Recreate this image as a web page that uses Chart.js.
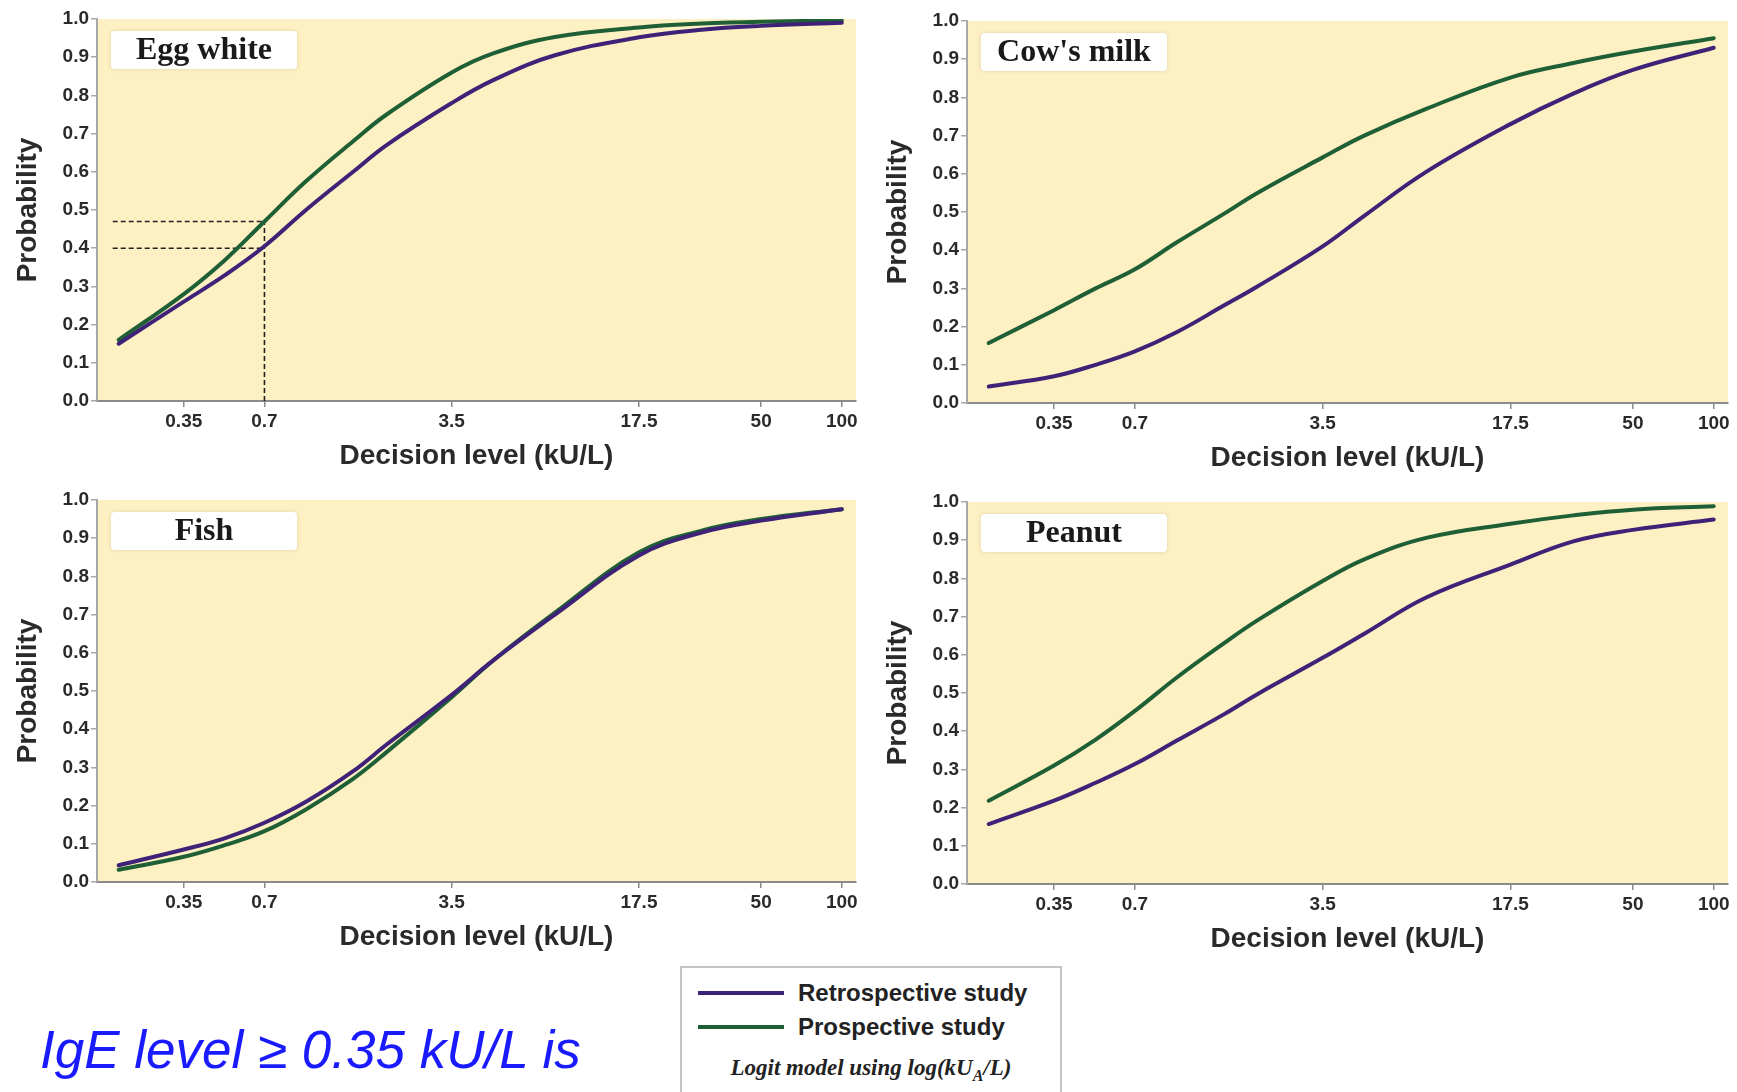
<!DOCTYPE html>
<html>
<head>
<meta charset="utf-8">
<script src="https://cdn.jsdelivr.net/npm/chart.js@4.4.0/dist/chart.umd.min.js"></script>
<style>
  body { margin: 0; background: #fff; width: 1737px; height: 1092px; overflow: hidden; position: relative; font-family: 'Liberation Sans', Arial, sans-serif; }
  canvas { position: absolute; }
  #legend { position: absolute; left: 680px; top: 966px; width: 378px; height: 140px; border: 2px solid #c4c4c4; border-bottom: none; background: #fff; }
  .item { position: absolute; left: 16px; font-weight: bold; font-size: 24px; color: #222; line-height: 26px; }
  .sw { display: inline-block; width: 86px; height: 4px; vertical-align: middle; margin-right: 14px; position: relative; top: -2px; }
  #logit { position: absolute; left: 0; width: 378px; top: 87px; text-align: center; font-family: 'Liberation Serif', 'Times New Roman', serif; font-style: italic; font-weight: bold; font-size: 23px; color: #222; }
  #note { position: absolute; left: 40px; top: 1022px; font-style: italic; font-size: 53px; line-height: 56px; color: #1a1aff; }
</style>
</head>
<body>
<canvas id="c0"></canvas>
<canvas id="c1"></canvas>
<canvas id="c2"></canvas>
<canvas id="c3"></canvas>

<div id="legend">
  <div class="item" style="top:12px"><span class="sw" style="background:#3d2277"></span>Retrospective study</div>
  <div class="item" style="top:46px"><span class="sw" style="background:#1f5f35"></span>Prospective study</div>
  <div id="logit">Logit model using log(kU<sub style="font-size:16px">A</sub>/L)</div>
</div>
<div id="note">IgE level &ge; 0.35 kU/L is</div>

<script>
// decision levels (kU/L) where curves were read
const levels = [0.2, 0.35, 0.5, 0.7, 1, 1.5, 2, 3.5, 5, 8.5, 17.5, 30, 50, 100];

const eggRetro  = [0.15, 0.26, 0.33, 0.405, 0.50, 0.60, 0.67, 0.78, 0.84, 0.905, 0.952, 0.972, 0.982, 0.99];
const eggPro    = [0.16, 0.28, 0.37, 0.47, 0.575, 0.68, 0.75, 0.86, 0.91, 0.953, 0.978, 0.988, 0.993, 0.996];

const milkRetro = [0.043, 0.07, 0.10, 0.135, 0.185, 0.255, 0.305, 0.41, 0.49, 0.605, 0.73, 0.81, 0.872, 0.93];
const milkPro   = [0.157, 0.243, 0.30, 0.35, 0.42, 0.495, 0.55, 0.643, 0.70, 0.77, 0.852, 0.89, 0.92, 0.955];

const fishRetro = [0.044, 0.085, 0.115, 0.155, 0.21, 0.29, 0.36, 0.49, 0.58, 0.70, 0.855, 0.915, 0.946, 0.976];
const fishPro   = [0.032, 0.066, 0.097, 0.133, 0.19, 0.27, 0.34, 0.484, 0.58, 0.705, 0.863, 0.92, 0.95, 0.976];

const peanutRetro = [0.157, 0.218, 0.265, 0.314, 0.375, 0.444, 0.497, 0.592, 0.655, 0.75, 0.836, 0.897, 0.927, 0.954];
const peanutPro   = [0.218, 0.31, 0.378, 0.453, 0.54, 0.63, 0.69, 0.793, 0.85, 0.906, 0.943, 0.965, 0.98, 0.989];

// egg white cut-off guides (dashed)
const cutLevel = 0.7;
const cutStart = 0.19;
const cutProb = [0.47, 0.40];

const xTickValues = [0.35, 0.7, 3.5, 17.5, 50, 100];
const xTickLabels = ['0.35', '0.7', '3.5', '17.5', '50', '100'];
const yTickValues = [0, 0.1, 0.2, 0.3, 0.4, 0.5, 0.6, 0.7, 0.8, 0.9, 1.0];

const retroColor = '#3d2277';
const proColor = '#1f5f35';

const toPts = arr => levels.map((x, i) => ({ x: x, y: arr[i] }));

const yellowBg = {
  id: 'yellowBg',
  beforeDraw(chart) {
    const a = chart.chartArea, c = chart.ctx;
    c.save();
    c.fillStyle = '#fdf0c3';
    c.fillRect(a.left, a.top, a.right - a.left, a.bottom - a.top);
    c.restore();
  }
};

const panelTag = {
  id: 'panelTag',
  afterDraw(chart, args, opts) {
    const a = chart.chartArea, c = chart.ctx;
    const x = a.left + 14, y = a.top + 12, w = 186, h = 38;
    c.save();
    c.shadowColor = 'rgba(0,0,0,0.12)';
    c.shadowBlur = 4;
    c.fillStyle = '#ffffff';
    c.beginPath();
    c.roundRect(x, y, w, h, 4);
    c.fill();
    c.shadowBlur = 0;
    c.fillStyle = '#1a1a1a';
    c.font = 'bold 32px "Liberation Serif", "Times New Roman", serif';
    c.textAlign = 'center';
    c.textBaseline = 'middle';
    c.fillText(opts.text, x + w / 2, y + h / 2 + 1);
    c.restore();
  }
};

const panels = [
  { id: 'c0', name: 'Egg white',  retro: eggRetro,    pro: eggPro,    left: 0,   top: -1,  plotW: 759, cut: true },
  { id: 'c1', name: "Cow's milk", retro: milkRetro,   pro: milkPro,   left: 870, top: 1,   plotW: 761 },
  { id: 'c2', name: 'Fish',       retro: fishRetro,   pro: fishPro,   left: 0,   top: 480, plotW: 759 },
  { id: 'c3', name: 'Peanut',     retro: peanutRetro, pro: peanutPro, left: 870, top: 482, plotW: 761 }
];

const axisW = 97, xAxisH = 76, padTop = 20, padRight = 10, plotH = 382;

panels.forEach(p => {
  const cv = document.getElementById(p.id);
  const w = axisW + p.plotW + padRight, h = padTop + plotH + xAxisH;
  cv.width = w; cv.height = h;
  cv.style.left = p.left + 'px'; cv.style.top = p.top + 'px';
  cv.style.width = w + 'px'; cv.style.height = h + 'px';

  const lineStyle = { showLine: true, pointRadius: 0, borderWidth: 4, tension: 0.4, fill: false, borderCapStyle: 'round' };
  const datasets = [
    Object.assign({ label: 'Retrospective study', data: toPts(p.retro), borderColor: retroColor }, lineStyle),
    Object.assign({ label: 'Prospective study', data: toPts(p.pro), borderColor: proColor }, lineStyle)
  ];
  if (p.cut) {
    const dash = { showLine: true, pointRadius: 0, borderWidth: 1.6, borderColor: '#222', borderDash: [5, 3], fill: false, tension: 0 };
    cutProb.forEach(v => datasets.push(Object.assign({ label: 'cut', data: [{ x: cutStart, y: v }, { x: cutLevel, y: v }] }, dash)));
    datasets.push(Object.assign({ label: 'cut', data: [{ x: cutLevel, y: 0 }, { x: cutLevel, y: cutProb[0] }] }, dash));
  }

  new Chart(cv, {
    type: 'scatter',
    data: { datasets: datasets },
    options: {
      responsive: false,
      animation: false,
      events: [],
      layout: { autoPadding: false, padding: { top: padTop, right: padRight, left: 0, bottom: 0 } },
      plugins: {
        legend: { display: false },
        tooltip: { enabled: false },
        panelTag: { text: p.name }
      },
      scales: {
        x: {
          type: 'logarithmic',
          min: 0.166,
          max: 113,
          afterFit: s => { s.height = xAxisH; },
          afterBuildTicks: s => { s.ticks = xTickValues.map(v => ({ value: v })); },
          grid: { drawOnChartArea: false, tickLength: 6, color: '#8a8a8a', lineWidth: 1.5 },
          border: { display: true, color: '#8a8a8a', width: 2 },
          ticks: {
            autoSkip: false, maxRotation: 0, padding: 3, color: '#2a2a2a',
            font: { family: 'Liberation Sans', size: 19, weight: 'bold' },
            callback: (v, i) => xTickLabels[i]
          },
          title: {
            display: true, text: 'Decision level (kU/L)', color: '#2a2a2a',
            font: { family: 'Liberation Sans', size: 28, weight: 'bold' },
            padding: { top: 0, bottom: 4 }
          }
        },
        y: {
          min: 0, max: 1,
          afterFit: s => { s.width = axisW; },
          afterBuildTicks: s => { s.ticks = yTickValues.map(v => ({ value: v })); },
          grid: { drawOnChartArea: false, tickLength: 6, color: '#a8a8a8', lineWidth: 1.5 },
          border: { display: true, color: '#a8a8a8', width: 2 },
          ticks: {
            padding: 2, color: '#2a2a2a',
            font: { family: 'Liberation Sans', size: 19, weight: 'bold' },
            callback: v => v.toFixed(1)
          },
          title: {
            display: true, text: 'Probability', color: '#2a2a2a',
            font: { family: 'Liberation Sans', size: 28, weight: 'bold' },
            padding: { top: 11, bottom: 0 }
          }
        }
      }
    },
    plugins: [yellowBg, panelTag]
  });
});
</script>
</body>
</html>
